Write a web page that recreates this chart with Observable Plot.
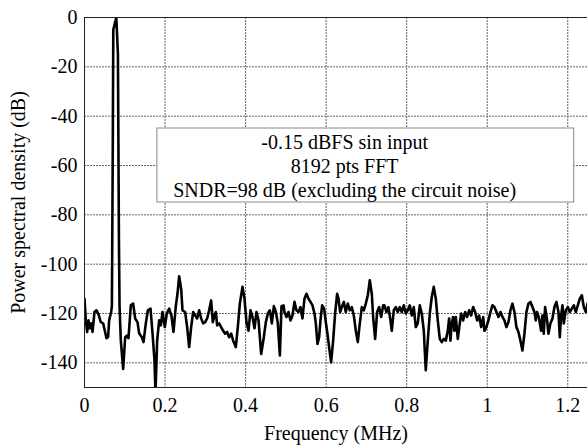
<!DOCTYPE html>
<html><head><meta charset="utf-8">
<script src="https://cdn.jsdelivr.net/npm/d3@7"></script>
<script src="https://cdn.jsdelivr.net/npm/@observablehq/plot@0.6"></script>
<style>body{margin:0;background:#fff}</style>
</head><body><div id="chart"></div>
<script>
const freqMHz = [
0, 0.0033, 0.0066, 0.0099, 0.0132, 0.0166, 0.0199, 0.0248, 0.0298, 0.0348, 0.0405, 0.0463, 0.0505, 0.0546, 0.0587, 0.0612, 0.0662,
0.0680, 0.0700, 0.0715, 0.0790, 0.0830, 0.0855, 0.0870,
0.0902, 0.0960, 0.1010, 0.1051, 0.1092, 0.1150, 0.1208, 0.1258, 0.1316, 0.1357, 0.1423, 0.1465, 0.1523, 0.1573, 0.1639, 0.1689, 0.1738, 0.1763, 0.1804, 0.1854, 0.1895, 0.1937, 0.1994, 0.2044, 0.2102, 0.2160, 0.2210, 0.2267, 0.2309, 0.2350, 0.2400, 0.2433,
0.2499, 0.2549, 0.2599, 0.2648, 0.2698, 0.2748, 0.2797, 0.2847, 0.2897, 0.2946, 0.2996, 0.3046, 0.3095, 0.3145, 0.3186, 0.3228, 0.3261, 0.3294, 0.3344, 0.3393, 0.3443, 0.3493, 0.3542, 0.3592, 0.3642, 0.3691, 0.3757, 0.3807, 0.3857, 0.3923, 0.3973, 0.4022, 0.4072, 0.4122, 0.4172, 0.4221, 0.4271, 0.4321, 0.4387, 0.4453, 0.4503, 0.4553, 0.4602, 0.4652, 0.4702, 0.4752, 0.4801, 0.4851, 0.4892, 0.4942,
0.4965, 0.5015, 0.5065, 0.5114, 0.5164, 0.5214, 0.5263, 0.5313, 0.5363, 0.5412, 0.5462, 0.5512, 0.5562, 0.5611, 0.5661, 0.5711, 0.5744, 0.5785, 0.5826, 0.5859, 0.5901, 0.5950, 0.5992, 0.6033, 0.6074, 0.6124, 0.6174, 0.6223, 0.6273, 0.6306, 0.6348, 0.6389, 0.6439, 0.6488, 0.6538, 0.6588, 0.6637, 0.6687, 0.6737, 0.6786, 0.6836, 0.6886, 0.6935, 0.6985, 0.7035, 0.7084, 0.7134, 0.7167, 0.7217, 0.7266, 0.7316, 0.7366, 0.7416,
0.7448, 0.7497, 0.7547, 0.7597, 0.7630, 0.7680, 0.7729, 0.7779, 0.7829, 0.7878, 0.7928, 0.7978, 0.8027, 0.8077, 0.8127, 0.8176, 0.8226, 0.8276, 0.8325, 0.8375, 0.8425, 0.8474, 0.8524, 0.8574, 0.8623, 0.8673, 0.8723, 0.8772, 0.8822, 0.8872, 0.8921, 0.8971, 0.9021, 0.9054, 0.9087, 0.9120, 0.9153, 0.9186, 0.9220, 0.9269, 0.9319, 0.9352, 0.9402, 0.9452, 0.9501, 0.9551, 0.9601, 0.9650, 0.9700, 0.9750, 0.9799, 0.9849, 0.9899,
0.9931, 0.9980, 1.0030, 1.0080, 1.0129, 1.0179, 1.0229, 1.0278, 1.0328, 1.0378, 1.0427, 1.0477, 1.0527, 1.0576, 1.0626, 1.0676, 1.0725, 1.0775, 1.0825, 1.0874, 1.0924, 1.0974, 1.1023, 1.1073, 1.1123, 1.1172, 1.1205, 1.1239, 1.1288, 1.1338, 1.1371, 1.1404, 1.1437, 1.1487, 1.1520, 1.1570, 1.1620, 1.1669, 1.1719, 1.1769, 1.1802, 1.1835, 1.1868, 1.1901, 1.1951, 1.2001, 1.2050, 1.2100, 1.2150, 1.2200, 1.2249, 1.2299, 1.2349, 1.2398, 1.2448, 1.2490
];
const psdDb = [
-114, -122.8, -127.5, -122.8, -126, -124, -127.5, -119.4, -118.7, -120.4, -123.5, -124, -127, -130, -129.5, -122.8, -119.4,
-117, -60, -5, 0, -15, -90, -117,
-131, -142.5, -129.6, -129, -130, -116.7, -116, -122, -123.5, -128, -129.6, -131.6, -124, -118.7, -118, -128, -139, -152, -131, -122.8, -124.8, -119.4, -125.5, -120, -118, -121, -127.5, -117, -112, -104.9, -110, -118.7,
-119.4, -125.5, -133.6, -125.5, -119.4, -120.8, -122, -118.7, -122, -124, -123.5, -122, -118.7, -114.7, -123.5, -120.8, -119.4, -124.8, -124, -125.5, -127, -128.2, -127.5, -129.6, -128.2, -131, -133.6, -125.5, -116, -109.2, -114, -123.5, -127, -118.7, -121.4, -126, -119.4, -122.8, -136.4, -129.6, -123.5, -120, -118.7, -124, -117, -119.4, -124, -137, -117, -116.7,
-119.4, -121.4, -119.4, -122.8, -120.8, -115.3, -118.7, -119.4, -117.4, -122, -114, -112, -114, -115.3, -116.7, -120, -124, -132.3, -129.6, -122.8, -116.7, -118, -123.5, -128.2, -133.6, -139.8, -131, -120, -112, -114, -119.4, -117.4, -115.3, -119.4, -116, -118.7, -117.4, -120.8, -127, -131.6, -124, -117.4, -118.7, -116, -112.6, -106.5, -112, -121.4, -130.3, -119.4, -117.4, -121.4, -116.7,
-116.7, -119.4, -117.4, -122.8, -127, -118.7, -117.4, -119.4, -117.4, -119.4, -116.7, -120, -118.7, -116.7, -120.8, -117.4, -125.5, -124, -116.7, -120, -127, -143, -131, -120, -113.3, -109.2, -114, -122.8, -130.3, -131.6, -130.3, -131, -127, -122, -131, -124, -121.4, -127, -121.4, -130.3, -124, -120, -122.8, -119.4, -121.4, -118.7, -120.8, -117.4, -119.4, -122.8, -120.8, -125.5, -121.4,
-127, -125.5, -122.8, -119.4, -116.7, -117.4, -119.4, -121.4, -119.4, -121.4, -122.8, -125.5, -123.5, -118.7, -116, -119.4, -125.5, -127.5, -131, -135, -128.2, -119.4, -116, -115.3, -117.4, -119.4, -122.8, -119.4, -122, -127, -120.8, -128.2, -117.4, -122.8, -128.2, -124, -122, -117.4, -115.3, -119.4, -129.6, -120.8, -116.7, -124, -118.7, -117.4, -119.4, -118, -116.7, -119.4, -116.7, -114, -112.6, -117.4, -119.4, -116
];
const xTicks = [0, 0.2, 0.4, 0.6, 0.8, 1, 1.2];
const yTicks = [0, -20, -40, -60, -80, -100, -120, -140];
const xDomain = [0, 1.249];
const yDomain = [-150, 0];
const noteLines = ["-0.15 dBFS sin input", "8192 pts FFT", "SNDR=98 dB (excluding the circuit noise)"];

const data = freqMHz.map((f, i) => ({f, p: psdDb[i]}));
const serif = "'Liberation Serif', 'Times New Roman', serif";

const chart = Plot.plot({
  width: 587, height: 446,
  marginLeft: 84, marginRight: 0, marginTop: 17, marginBottom: 59,
  style: {fontFamily: serif, fontSize: "20px", color: "black", background: "white"},
  x: {domain: xDomain, ticks: xTicks, tickSize: 0, tickPadding: 10, tickFormat: d => String(d),
      label: "Frequency (MHz)", labelAnchor: "center", labelOffset: 52, labelArrow: false},
  y: {domain: yDomain, ticks: yTicks, tickSize: 0, tickPadding: 7, tickFormat: d => String(d),
      label: "Power spectral density (dB)", labelAnchor: "center", labelOffset: 74, labelArrow: false},
  marks: [
    Plot.gridX(xTicks.filter(d => d > 0), {stroke: "#666", strokeOpacity: 1, strokeDasharray: "2,1"}),
    Plot.gridY(yTicks.filter(d => d < 0), {stroke: "#666", strokeOpacity: 1, strokeDasharray: "2,1"}),
    Plot.rect([0], {x1: 0.181, x2: 1.216, y1: -45, y2: -75, fill: "white", stroke: "#888", strokeWidth: 1}),
    Plot.text([noteLines.join("\n")], {x: 0.646, y: -60, text: d => d, fontSize: 20, lineHeight: 1.2, textAnchor: "middle", fill: "black"}),
    Plot.line(data, {x: "f", y: "p", stroke: "black", strokeWidth: 2.6, clip: true}),
    Plot.ruleY(yDomain, {stroke: "#222", strokeWidth: 1}),
    Plot.ruleX([xDomain[0]], {stroke: "#222", strokeWidth: 1})
  ]
});
document.getElementById("chart").appendChild(chart);
</script>
</body></html>
